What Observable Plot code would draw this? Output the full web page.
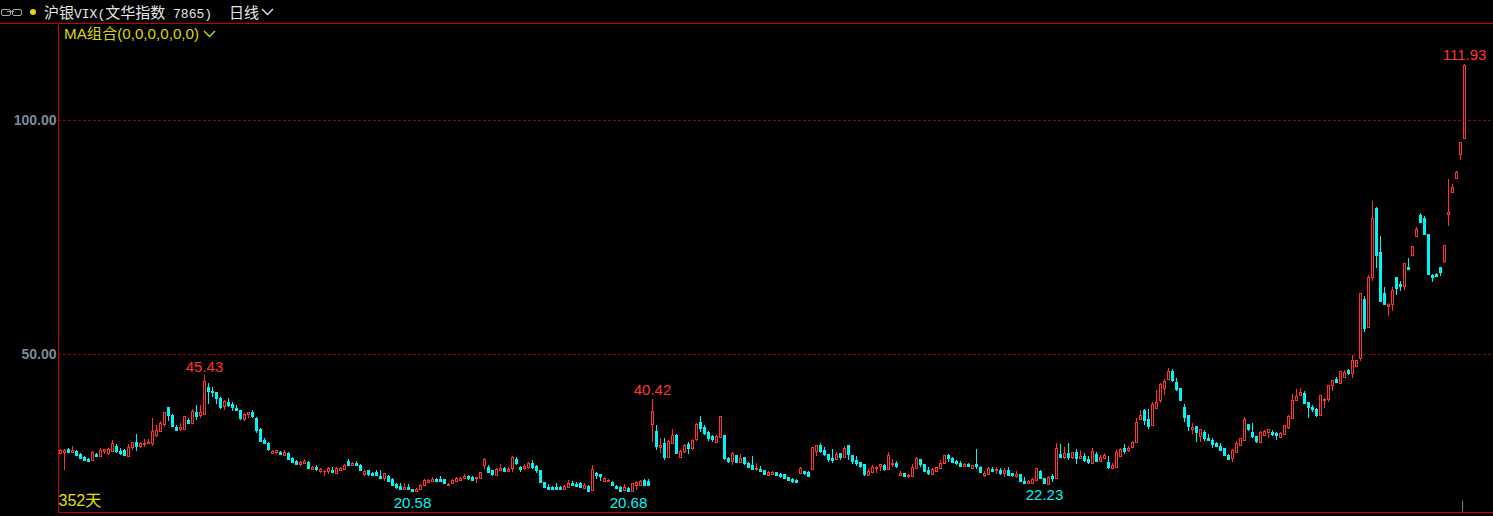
<!DOCTYPE html>
<html>
<head>
<meta charset="utf-8">
<script src="https://cdn.jsdelivr.net/npm/d3@7"></script>
<script src="https://cdn.jsdelivr.net/npm/@observablehq/plot@0.6"></script>
<style>
html,body{margin:0;padding:0;background:#000;width:1493px;height:516px;overflow:hidden}
#wrap{position:relative;width:1493px;height:516px;font-family:"Liberation Sans","Noto Sans CJK SC",sans-serif}
#head{position:absolute;left:0;top:0;width:1493px;height:23px;border-bottom:1px solid #c00000;color:#e6e6e6;font-size:15px;line-height:23px;white-space:nowrap}
.abs{position:absolute}
.mono{font-family:"Liberation Mono",monospace;font-size:13px}
.cjk{font-family:"Noto Sans CJK SC",sans-serif}
#chart{position:absolute;left:0;top:24px}
svg{display:block}
g[aria-label="y-axis tick label"] text{font-weight:bold}
</style>
</head>
<body>
<div id="wrap">
  <div id="head">
    <span class="abs" style="left:1px;top:9px;width:8px;height:5px;border:1px solid #a8a8a8;border-radius:2px"></span>
    <span class="abs" style="left:12px;top:9px;width:8px;height:5px;border:1px solid #a8a8a8;border-radius:2px"></span>
    <span class="abs" style="left:7px;top:11px;width:7px;height:1px;background:#a8a8a8"></span>
    <span class="abs" style="left:30px;top:9px;width:6px;height:6px;background:#e6d800;border-radius:50%"></span>
    <span class="abs" style="left:44px;top:0"><span class="cjk">沪银</span><span class="mono">VIX(</span><span class="cjk">文华指数</span><span class="mono"> 7865)</span></span>
    <span class="abs cjk" style="left:229px;top:0">日线</span>
    <svg class="abs" style="left:261px;top:8px" width="13" height="8"><polyline points="1,1 6.5,6.5 12,1" fill="none" stroke="#e6e6e6" stroke-width="1.3"/></svg>
  </div>
  <div id="chart"></div>
  <span class="abs" style="left:64px;top:24px;color:#d8d800;font-size:15.2px;line-height:20px;z-index:2">MA组合(0,0,0,0,0,0)</span>
  <svg class="abs" style="left:203px;top:30px;z-index:2" width="13" height="8"><polyline points="1,1 6.5,6.5 12,1" fill="none" stroke="#d8d800" stroke-width="1.3"/></svg>
</div>
<script>
const highs = [
29.77,29.70,29.92,30.34,29.49,28.78,28.14,27.85,29.28,28.92,29.85,29.70,29.99,31.63,30.77,29.99,29.77,30.77,31.27,32.91,31.13,31.77,31.77,36.26,34.83,35.69,37.68,38.75,37.18,34.83,35.19,36.75,36.26,38.32,39.10,39.10,45.43,43.73,42.88,41.88,40.74,40.24,40.53,39.82,39.10,38.04,37.32,37.68,38.04,36.47,34.12,32.12,31.27,29.49,29.49,29.35,29.42,28.99,28.06,27.35,27.14,27.50,27.07,26.07,26.21,25.71,25.22,25.86,25.79,25.86,
25.85,26.49,27.56,26.92,27.13,26.49,25.21,25.21,24.78,25.21,25.21,24.64,24.14,23.43,22.36,22.36,22.36,22.22,21.22,21.44,22.15,23.22,23.22,23.64,23.50,23.93,23.29,22.36,23.29,23.72,23.79,24.29,24.07,23.86,23.79,24.85,27.70,26.21,25.28,25.57,26.49,25.92,25.78,28.13,27.92,26.07,26.49,26.85,27.35,26.28,25.28,22.72,22.15,21.86,22.36,21.79,22.01,23.00,22.86,22.58,22.65,22.36,22.01,26.28,24.78,24.43,23.64,23.36,22.86,22.01,21.79,22.22,21.58,22.50,22.93,23.07,23.22,23.29,40.42,34.76,31.98,31.98,31.62,33.90,32.90,
29.49,30.77,31.27,31.84,35.33,36.75,34.83,33.62,32.76,32.69,36.75,32.69,28.06,29.13,28.42,28.63,28.06,26.85,28.20,26.71,26.00,25.28,25.07,25.00,24.78,24.57,24.36,23.79,23.50,23.29,25.85,25.00,25.00,30.13,30.62,30.98,30.05,28.70,29.70,28.99,28.84,30.34,30.55,28.49,28.13,26.92,26.49,25.35,26.28,26.07,26.49,26.49,28.99,27.56,27.06,25.00,24.57,24.29,26.42,27.92,27.63,26.49,25.78,25.57,25.92,27.35,28.49,28.63,27.99,27.35,27.06,26.78,26.71,26.28,29.70,26.07,24.93,25.78,25.85,25.78,25.57,25.71,25.85,24.64,25.00,
24.35,23.71,23.00,23.43,25.71,25.21,23.50,23.93,24.35,30.98,30.76,30.12,30.98,29.05,29.69,29.48,28.84,28.20,29.91,29.05,28.41,28.84,28.20,26.70,29.48,29.91,30.76,30.34,31.40,36.25,38.03,38.24,38.24,39.74,42.30,43.87,44.65,47.00,46.79,44.87,42.73,39.31,36.96,35.25,34.61,33.97,33.75,32.90,32.05,31.19,30.98,29.91,28.63,29.69,31.40,32.05,36.53,35.04,35.25,32.47,33.54,33.75,33.97,33.75,33.33,33.33,34.82,36.89,41.45,42.52,42.73,42.09,39.74,39.10,38.46,41.23,40.59,43.37,44.44,45.08,
46.37,46.58,46.86,49.78,48.71,63.03,62.39,66.88,82.69,81.41,75.21,64.31,60.89,64.31,66.45,65.59,69.44,70.51,73.07,77.13,80.13,79.48,75.64,67.09,67.30,68.59,73.29,87.39,86.32,89.17,95.30,111.93];
const bodyTops = [
29.49,29.56,29.63,29.49,29.28,28.63,27.99,27.64,29.06,28.71,29.42,29.63,29.63,30.91,30.34,29.35,29.42,30.06,31.13,31.13,30.91,31.06,31.13,33.55,33.76,35.19,37.54,38.61,36.97,34.48,34.40,36.68,35.97,37.82,37.61,37.54,44.16,42.95,42.10,41.81,40.53,39.96,39.67,39.32,38.53,37.97,37.11,37.54,37.61,36.33,33.98,31.70,30.91,29.35,29.42,29.13,29.06,28.85,27.78,27.14,26.93,27.14,26.93,25.86,25.86,25.43,25.07,25.64,25.29,25.64,
25.64,26.21,27.21,26.71,26.78,26.28,25.00,25.14,24.57,24.85,23.93,24.50,23.93,23.22,22.15,21.86,21.51,21.51,21.08,21.22,22.08,23.00,23.07,23.29,23.36,23.36,23.22,22.29,23.15,23.50,23.57,23.93,23.93,23.72,23.64,24.71,27.56,25.85,25.14,25.42,25.71,25.71,25.50,28.06,27.63,25.92,26.07,26.64,26.71,26.07,25.14,22.58,21.65,21.51,21.51,21.51,21.79,22.36,22.50,22.29,22.36,22.08,21.86,25.35,24.57,24.29,23.43,23.15,22.65,21.79,21.51,21.65,21.44,22.36,22.72,22.93,23.00,22.86,37.89,33.47,30.48,30.91,31.41,32.62,32.69,
29.27,30.62,30.77,31.69,34.97,35.40,34.33,33.33,32.48,32.55,36.68,32.62,27.78,28.92,28.34,27.70,27.92,26.64,26.21,25.57,25.42,25.14,24.71,24.85,24.71,24.36,24.29,23.64,23.29,23.07,25.57,24.93,24.71,30.05,30.48,30.48,29.49,28.63,27.70,28.63,28.77,29.84,30.48,28.34,27.35,26.85,26.42,24.93,25.85,25.85,26.42,26.21,28.34,26.71,26.71,24.50,24.50,24.21,25.92,27.70,27.49,26.42,25.21,25.35,25.78,26.71,28.34,28.42,27.78,27.13,26.64,26.56,26.49,26.21,26.49,25.85,24.50,25.64,25.50,25.42,25.28,25.21,25.21,24.57,24.29,
24.35,22.93,22.79,23.21,25.56,24.99,23.43,23.78,23.93,29.91,28.63,28.84,28.84,28.98,29.05,28.20,28.20,27.63,29.27,28.63,27.99,28.41,26.92,26.28,29.05,29.69,29.91,29.91,31.19,35.46,36.89,38.03,36.10,39.31,39.74,43.58,44.15,46.36,46.36,44.01,42.73,38.67,36.96,34.40,34.61,33.90,33.33,32.05,31.62,30.98,30.34,29.91,28.41,29.48,30.98,31.97,36.10,35.04,33.33,32.47,33.33,33.54,33.90,33.33,33.11,33.11,34.75,36.75,40.17,41.02,41.88,41.66,39.74,38.67,38.24,41.16,40.38,43.37,44.44,44.65,
46.36,46.08,46.51,48.64,48.64,62.96,61.75,66.38,78.99,81.19,71.79,63.03,60.68,63.67,66.45,64.95,69.37,68.59,73.00,76.63,79.70,79.06,75.64,66.88,67.09,68.59,73.22,80.41,85.75,88.89,95.20,111.85];
const bodyBottoms = [
28.78,29.13,29.13,29.13,28.42,27.78,27.42,27.14,27.35,28.14,28.28,29.35,28.85,29.35,29.20,28.78,28.35,28.21,30.06,30.34,30.34,30.84,30.91,31.06,32.69,33.62,34.97,37.04,34.55,33.83,34.05,33.98,35.26,35.33,36.83,37.04,37.25,42.10,41.81,40.60,38.61,38.96,39.03,38.68,38.04,36.33,36.18,37.25,36.75,33.83,31.41,30.98,29.70,28.92,29.13,28.63,28.35,27.57,27.00,26.50,26.50,26.71,25.64,25.36,25.36,25.07,24.93,25.07,24.79,24.65,
25.21,25.42,26.28,26.28,26.28,25.28,24.43,24.29,24.14,24.14,23.50,23.57,22.93,22.08,21.51,21.15,21.08,21.08,20.65,20.65,21.08,21.94,22.65,22.93,22.93,22.86,22.43,22.08,22.36,22.93,23.00,23.57,23.43,23.15,23.43,23.57,26.28,24.85,24.36,24.07,25.28,25.07,25.07,25.57,26.64,25.42,25.71,25.78,25.85,25.14,22.65,21.51,21.08,21.08,21.08,21.08,21.15,21.65,22.01,21.72,21.65,21.44,20.79,21.01,24.14,23.86,22.93,22.93,22.08,21.36,20.75,20.85,20.75,20.72,22.01,22.01,22.01,22.01,34.97,30.41,30.20,28.06,27.92,31.05,28.91,
27.92,29.27,29.91,29.91,31.91,34.26,33.12,32.05,31.91,31.27,32.33,27.78,27.13,27.21,26.92,26.92,26.71,25.92,25.35,25.35,25.00,24.36,24.07,24.36,24.14,23.93,23.43,23.00,22.86,22.72,24.64,24.57,23.93,25.50,29.27,29.27,28.56,27.63,27.35,27.49,27.99,28.06,28.63,27.13,26.71,26.00,24.36,24.07,24.78,25.64,26.14,25.35,25.50,26.49,26.00,24.21,23.93,24.00,24.00,25.71,26.49,24.93,24.50,24.43,25.07,25.64,26.78,27.78,26.92,26.64,26.00,26.07,26.07,25.64,26.07,24.78,24.14,24.43,25.00,25.14,24.50,24.57,24.21,24.07,23.93,
22.79,22.43,22.36,22.43,23.14,23.43,22.43,22.32,23.50,23.50,27.91,27.99,27.99,27.99,27.77,27.84,27.34,26.85,26.78,27.13,27.13,27.77,25.85,25.63,25.85,28.20,29.27,29.48,30.05,31.12,36.03,35.89,34.61,34.82,38.46,40.17,42.73,44.65,44.44,42.52,40.17,36.53,34.61,33.97,33.33,32.47,32.05,31.62,30.76,30.34,29.48,28.41,27.56,27.77,29.05,30.55,31.62,33.97,32.47,31.40,31.19,32.69,33.33,32.90,32.69,32.26,32.90,34.40,36.32,40.17,41.30,39.52,38.67,38.24,36.96,36.96,40.17,40.38,43.30,44.01,
43.87,45.01,45.94,46.01,47.50,49.21,55.55,55.84,66.45,71.15,61.32,60.68,60.32,60.68,64.10,64.53,64.53,68.16,71.22,75.28,78.20,75.64,67.09,66.45,66.66,67.52,69.94,79.98,84.62,87.52,92.65,96.07];
const lows = [
28.63,25.22,29.06,29.06,28.35,27.71,27.28,26.93,27.21,27.99,28.14,28.63,28.42,29.13,28.78,28.42,28.21,27.99,29.49,29.28,29.92,30.20,30.77,30.34,32.20,33.48,34.48,35.76,34.33,33.76,33.62,33.76,35.04,35.19,35.97,36.26,37.18,39.32,40.89,39.32,38.18,38.04,38.68,37.89,38.04,35.90,35.61,36.33,36.26,33.19,31.34,30.70,29.28,28.63,28.56,28.42,28.14,27.35,26.93,26.28,26.07,26.64,25.36,25.22,25.00,24.57,23.93,24.36,24.50,24.50,
25.00,25.35,26.07,26.07,26.07,25.07,23.93,24.00,24.14,24.07,23.36,22.86,22.79,21.86,21.08,21.08,21.08,20.94,20.58,20.62,20.94,21.79,22.43,22.86,22.86,22.65,22.36,21.86,22.22,22.86,22.79,23.43,23.07,23.07,22.43,23.50,25.35,24.78,24.00,23.93,25.21,24.71,24.85,24.85,26.35,24.78,25.21,25.42,25.35,24.50,22.50,21.36,20.94,21.01,21.01,21.01,21.01,21.44,21.94,21.58,21.51,21.29,20.72,20.87,23.29,22.86,22.65,22.72,21.86,21.29,20.70,20.70,20.68,20.70,21.01,21.79,21.79,21.94,31.27,29.49,28.77,27.35,27.78,30.91,28.77,
27.78,28.92,28.63,29.49,31.41,33.33,32.69,31.34,31.19,30.98,32.33,27.35,26.64,26.28,26.85,26.64,26.28,25.85,25.21,24.93,24.78,24.07,23.93,24.07,24.07,23.57,23.29,22.86,22.43,22.65,24.50,24.14,23.72,25.50,28.20,28.92,28.20,26.92,26.71,27.28,27.35,27.92,27.28,26.49,26.07,25.71,23.93,23.86,24.57,24.57,25.07,25.00,25.42,25.85,25.64,24.14,23.72,23.50,23.86,25.50,25.85,24.78,24.14,24.14,24.85,25.50,26.64,26.92,26.85,26.21,25.85,25.85,25.85,25.42,25.42,24.71,23.79,24.14,25.00,24.36,24.21,23.79,23.93,23.72,23.57,
22.71,22.30,22.30,22.30,22.93,23.28,22.23,22.30,22.64,23.43,27.70,27.56,27.42,27.56,26.56,27.56,26.92,26.56,26.63,26.92,26.92,27.49,25.42,25.49,25.78,27.99,28.63,29.05,29.91,30.98,35.89,34.82,33.97,34.61,38.46,39.52,41.23,44.58,44.01,42.02,40.17,35.46,33.54,32.90,31.19,31.19,31.40,31.40,29.91,30.12,29.27,28.20,27.34,26.92,28.84,30.34,31.40,33.54,32.05,30.98,30.98,32.47,32.05,32.47,31.62,32.05,32.69,33.97,36.25,40.10,41.23,39.52,36.32,37.60,36.53,36.96,38.46,39.74,42.09,43.80,
43.70,44.80,45.44,44.87,47.22,48.50,54.70,55.62,65.59,68.37,61.32,60.68,58.12,59.18,62.60,63.46,63.67,67.94,71.15,75.21,77.99,75.64,67.09,65.38,66.66,66.66,69.44,77.42,84.47,87.46,91.37,96.05];
// 1 = rising (red, hollow), 0 = falling (cyan, solid)
const rising = (
"1101000010"+"1111000110"+"1111111000"+"1101011000"+"0100001100"+"0001101000"+"1101011101"+
"1101001000"+"0100001001"+"1111000111"+"1100111001"+"1011001100"+"0000001100"+"0101001100"+"0101110010"+
"1011011011"+"0000110010"+"1000100110"+"0000010011"+"0000101000"+"0011110110"+"1011100011"+"1100001010"+"0110101001"+
"0011100101"+"0101010010"+"1101110111"+"1001111100"+"0001010000"+"0001111000"+"1110011111"+"1000011110"+
"1101110110"+"0011001011"+"0000001111"+"11");
const ticksY = [50, 100];
const peakLabels = [{i:351,v:111.93},{i:36,v:45.43},{i:148,v:40.42}];
const troughLabels = [{i:88,v:20.58},{i:142,v:20.68},{i:246,v:22.23}];
const dayCount = "352天";
const sideMark = {i:350.4, from:18.7, to:16.3};

const candles = highs.map((h,i)=>({i,h,l:lows[i],t:bodyTops[i],b:bodyBottoms[i],up:rising[i]==="1"}));
const RED="#ff3232", CYAN="#00f5f5", FRAME="#c80000";
const xMin=-0.625, xMax=358.125, yMin=16.24, yMax=120.51;
const halfW=0.25;

const chart = Plot.plot({
  width:1493,height:492,
  marginLeft:58,marginRight:0,marginTop:0,marginBottom:4,
  style:{background:"#000",fontFamily:"'Liberation Sans',sans-serif",overflow:"visible"},
  x:{type:"linear",domain:[xMin,xMax],axis:null},
  y:{type:"linear",domain:[yMin,yMax],axis:null},
  marks:[
    Plot.ruleY(ticksY,{stroke:"#9c0000",strokeDasharray:"3,2",strokeWidth:1,shapeRendering:"crispEdges"}),
    Plot.axisY(ticksY,{anchor:"left",tickSize:0,tickPadding:2,tickFormat:d=>d.toFixed(2),label:null,fill:"#7d8a99",fontSize:14}),
    Plot.ruleX([xMin],{stroke:FRAME,strokeWidth:1}),
    Plot.ruleY([yMin],{stroke:FRAME,strokeWidth:1}),
    Plot.ruleX(candles,{x:"i",y1:"l",y2:"h",stroke:c=>c.up?RED:CYAN,dx:-0.5,strokeWidth:1,shapeRendering:"crispEdges"}),
    Plot.rect(candles,{
      x1:d=>d.i-halfW,x2:d=>d.i+halfW,y1:"b",y2:"t",
      fill:d=>d.up?"#000":CYAN,stroke:d=>d.up?RED:CYAN,strokeWidth:1,dy:0.5,shapeRendering:"crispEdges"
    }),
    Plot.ruleX([sideMark],{x:"i",y1:"from",y2:"to",stroke:"#808080",strokeWidth:1}),
    Plot.text(peakLabels,{x:"i",y:"v",text:d=>d.v.toFixed(2),fill:RED,fontSize:15,dx:-0.5,dy:-9}),
    Plot.text(troughLabels,{x:"i",y:"v",text:d=>d.v.toFixed(2),fill:CYAN,fontSize:15,dx:-0.5,dy:11}),
    Plot.text([dayCount],{frameAnchor:"bottom-left",dx:0,dy:-7,textAnchor:"start",fill:"#e0e000",fontSize:16,fontFamily:"'Liberation Sans','Noto Sans CJK SC',sans-serif"})
  ]
});
document.getElementById("chart").appendChild(chart);
</script>
</body>
</html>
